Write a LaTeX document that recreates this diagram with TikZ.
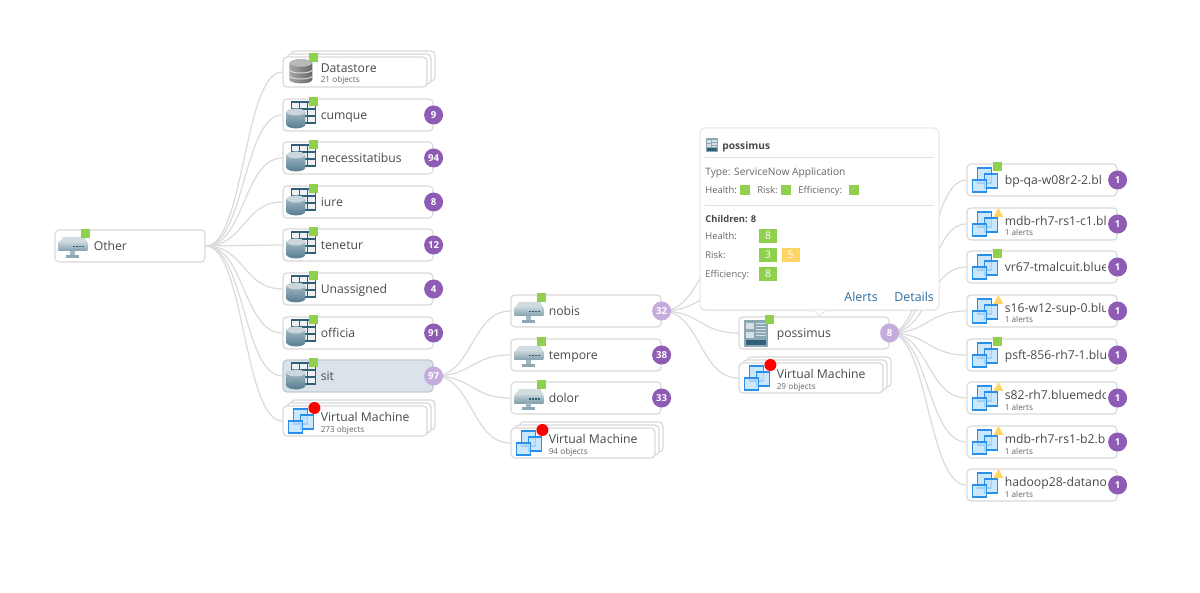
\documentclass[tikz,border=0pt]{standalone}
\usepackage{fontspec}
\setmainfont{Open Sans}
\usetikzlibrary{shadows}
\pgfdeclarelayer{background}
\pgfsetlayers{background,main}
\definecolor{boxline}{HTML}{D9D9D9}
\definecolor{edgeline}{HTML}{DADADA}
\definecolor{maintext}{HTML}{4A4A4A}
\definecolor{subtext}{HTML}{666666}
\definecolor{okgreen}{HTML}{8FD14F}
\definecolor{warnyellow}{HTML}{FFD666}
\definecolor{darkpurple}{HTML}{8E5BB5}
\definecolor{lightpurple}{HTML}{C6ACDD}
\definecolor{linkblue}{HTML}{2F6C9F}
\definecolor{vmblue}{HTML}{2A8FEA}
\definecolor{vmfill}{HTML}{BFE1FA}
\definecolor{gridblue}{HTML}{2F6078}
\definecolor{selfill}{HTML}{DAE3EA}
\definecolor{selline}{HTML}{BCCAD5}
\tikzstyle{box}=[draw=boxline, fill=white, line width=0.6pt, rounded corners=2pt
,minimum width=75pt
,minimum height=16pt
,inner sep=0pt
]
\tikzstyle{stack box} = [box, minimum width=72pt, minimum height=15pt]
\tikzstyle{selected box} = [box, draw=selline, fill=selfill]
\tikzstyle{name text} = [anchor=west, inner sep=0pt, text=maintext, text height=5.7pt, text depth=1.5pt, font=\fontsize{6.1}{8}\selectfont]
\tikzstyle{sub text} = [anchor=west, inner sep=0pt, text=subtext, text height=4pt, text depth=1pt, font=\fontsize{4.1}{5}\selectfont]
\tikzstyle{pop text} = [anchor=west, inner sep=0pt, text=subtext, text height=4.6pt, text depth=1.2pt, font=\fontsize{4.7}{6}\selectfont]
\tikzstyle{pop bold} = [pop text, text=maintext, font=\fontsize{4.7}{6}\selectfont\bfseries]
\tikzstyle{pop link} = [anchor=west, inner sep=0pt, text=linkblue, font=\fontsize{6.2}{7}\selectfont]
\tikzstyle{count badge} = [circle, fill=darkpurple, text=white, minimum size=9.5pt, inner sep=0pt, font=\fontsize{4.8}{6}\selectfont\bfseries]
\tikzstyle{open badge} = [count badge, fill=lightpurple]
\tikzstyle{ok square} = [fill=okgreen, minimum size=4.5pt, inner sep=0pt]
\tikzstyle{red dot} = [circle, fill=red, minimum size=6pt, inner sep=0pt]
\tikzstyle{warn mark} = [fill=warnyellow]
\tikzstyle{small square} = [fill=okgreen, minimum size=5pt, inner sep=0pt]
\tikzstyle{value box} = [fill=okgreen, text=white, minimum width=9pt, minimum height=7pt, inner sep=0pt, font=\fontsize{5.2}{6}\selectfont]
\tikzstyle{edge} = [draw=edgeline, line width=0.6pt]
\tikzstyle{rule} = [draw=black!12, line width=0.5pt]
\tikzset{
  vmicon/.pic={
    \foreach \a/\b/\c/\d in {11/-12/14/15, 18/-6/13/14, 6/0/14/12}
      \draw[draw=vmblue, fill=vmfill, fill opacity=0.8, line width=0.8pt] (\a,\b) rectangle ++(\c,\d);
  },
  gridicon/.pic={
    \draw[draw=gridblue, fill=gridblue!8, line width=0.8pt] (9,-13) rectangle (33,8);
    \foreach \a in {17,25} \draw[draw=gridblue, line width=0.8pt] (\a,-13) -- (\a,8);
    \foreach \b in {-6,1} \draw[draw=gridblue, line width=0.8pt] (9,\b) -- (33,\b);
    \shade[top color=gridblue!35, bottom color=gridblue!85] (4,-3) -- (4,10) .. controls (6,14.5) and (21,14.5) .. (23,10) -- (23,-3) .. controls (21,-7.5) and (6,-7.5) .. cycle;
    \fill[gridblue!25] (4,-3) .. controls (6,-7.5) and (21,-7.5) .. (23,-3) .. controls (21,1.5) and (6,1.5) .. cycle;
  },
  switchicon/.pic={
    \fill[gridblue!22] (4,-3) -- (9,-9) -- (30,-9) -- (33,-3) -- cycle;
    \shade[top color=gridblue!30, bottom color=gridblue!60] (4,-3) rectangle (33,5);
    \foreach \a in {19,22,25,28} \fill[gridblue] (\a,0) rectangle ++(1.5,1.5);
    \fill[gridblue!45] (16,5) rectangle (21,9);
    \fill[gridblue!55] (12,9) rectangle (25,12);
  },
  storeicon/.pic={
    \shade[left color=black!35, right color=black!60] (7,-9) -- (7,8) .. controls (9,12.5) and (28,12.5) .. (30,8) -- (30,-9) .. controls (28,-14) and (9,-14) .. cycle;
    \fill[black!28] (7,-9) .. controls (9,-14) and (28,-14) .. (30,-9) .. controls (28,-4) and (9,-4) .. cycle;
    \foreach \b in {-2,4} \draw[draw=black!15, line width=0.5pt] (7,\b) .. controls (9,\b+4) and (28,\b+4) .. (30,\b);
  },
  buildingicon/.pic={
    \fill[gridblue!55] (6,-13) rectangle (30,14);
    \foreach \b in {-10,-1} \fill[white!80!gridblue] (8,\b) rectangle ++(8,6);
    \foreach \b in {-10,-7,-4,-1,2} \fill[white!80!gridblue] (18,\b) rectangle ++(10,1.5);
    \fill[gridblue] (8,7) rectangle (28,12);
  }
}

\begin{document}
\begin{tikzpicture}[x=0.5pt, y=-0.5pt]
    \useasboundingbox (0,0) rectangle (1200,593);
    % First we draw the root
    \node[box] (Other) at (130,246) {};
    \pic at (Other.west) {switchicon};
    \node[name text] (Other-txt) at ([xshift=19.5pt]Other.west) {Other};
    \node[ok square] (Other-st) at ([shift={(31.5,-12)}]Other.west) {};

    % Then the plain nodes with a count
    \foreach \pos/\name/\cnt/\icon in {{(358,115)/cumque/9/gridicon}, {(358,158)/necessitatibus/94/gridicon}, {(358,202)/iure/8/gridicon}, {(358,245)/tenetur/12/gridicon}, {(358,289)/Unassigned/4/gridicon}, {(358,333)/officia/91/gridicon}, {(586,355)/tempore/38/switchicon}, {(586,398)/dolor/33/switchicon}}
    {
        \node[box] (\name) at \pos {};
        \pic at (\name.west) {\icon};
        \node[name text] (\name-txt) at ([xshift=19pt]\name.west) {\name};
        \node[ok square] (\name-st) at ([shift={(31.5,-13)}]\name.west) {};
        \node[count badge] (\name-cnt) at (\name.east) {\cnt};
    }

    % The open nodes
    \foreach \pos/\name/\cnt/\icon/\sty in {{(358,376)/sit/97/gridicon/selected box}, {(586,311)/nobis/32/switchicon/box}, {(814,333)/possimus/8/buildingicon/box}}
    {
        \node[\sty] (\name) at \pos {};
        \pic at (\name.west) {\icon};
        \node[name text] (\name-txt) at ([xshift=19pt]\name.west) {\name};
        \node[ok square] (\name-st) at ([shift={(31.5,-13)}]\name.west) {};
        \node[open badge] (\name-cnt) at (\name.east) {\cnt};
    }

    % Stacked groups
    \foreach \x/\y/\name/\main/\sub/\icon in {355/72/store/Datastore/21 objects/storeicon, 355/421/vmone/Virtual Machine/273 objects/vmicon, 583/443/vmtwo/Virtual Machine/94 objects/vmicon, 811/378/vmthree/Virtual Machine/29 objects/vmicon}
    {
        \node[stack box] (\name-back) at (\x+8,\y-6) {};
        \node[stack box] (\name-mid) at (\x+4,\y-3) {};
        \node[stack box] (\name) at (\x,\y) {};
        \pic at (\name.west) {\icon};
        \node[name text] (\name-txt) at ([shift={(38,-4)}]\name.west) {\main};
        \node[sub text] (\name-sub) at ([shift={(38,8)}]\name.west) {\sub};
    }
    \node[ok square] (store-st) at ([shift={(31.5,-14)}]store.west) {};
    \foreach \name in {vmone, vmtwo, vmthree}
        \node[red dot] (\name-st) at ([shift={(32,-13)}]\name.west) {};

    % The right column, names are cut at the badge
    \foreach \pos/\name/\main/\dy in {{(1042,180)/vma/bp-qa-w08r2-2.bl/0}, {(1042,224)/vmb/mdb-rh7-rs1-c1.blu/-3}, {(1042,267)/vmc/vr67-tmalcuit.blue/0}, {(1042,311)/vmd/s16-w12-sup-0.blu/-3}, {(1042,355)/vme/psft-856-rh7-1.blu/0}, {(1042,398)/vmf/s82-rh7.bluemedo/-3}, {(1042,442)/vmg/mdb-rh7-rs1-b2.bl/-3}, {(1042,485)/vmh/hadoop28-datano/-3}}
    {
        \node[box] (\name) at \pos {};
        \pic at (\name.west) {vmicon};
        \begin{scope}
            \clip (\name.south west) rectangle ([xshift=-6pt]\name.north east);
            \node[name text] (\name-txt) at ([shift={(38,\dy)}]\name.west) {\main};
        \end{scope}
        \node[count badge] (\name-cnt) at (\name.east) {1};
    }
    \foreach \name in {vma, vmc, vme}
        \node[ok square] (\name-st) at ([shift={(31.5,-13)}]\name.west) {};
    \foreach \name in {vmb, vmd, vmf, vmg, vmh}
    {
        \fill[warn mark] ([shift={(32,-16)}]\name.west) -- ([shift={(37,-7)}]\name.west) -- ([shift={(27,-7)}]\name.west) -- cycle;
        \node[sub text] (\name-sub) at ([shift={(38,9)}]\name.west) {1 alerts};
    }

    % Two more children hidden under the popup
    \coordinate (hidden-a) at (739,245);
    \coordinate (hidden-b) at (739,289);

    % Connect nodes with edges
    \begin{pgfonlayer}{background}
    \foreach \source/\dest in {Other.east/store.west, Other.east/cumque.west, Other.east/necessitatibus.west, Other.east/iure.west, Other.east/tenetur.west, Other.east/Unassigned.west, Other.east/officia.west, Other.east/sit.west, Other.east/vmone.west, sit-cnt.center/nobis.west, sit-cnt.center/tempore.west, sit-cnt.center/dolor.west, sit-cnt.center/vmtwo.west, nobis-cnt.center/hidden-a, nobis-cnt.center/hidden-b, nobis-cnt.center/possimus.west, nobis-cnt.center/vmthree.west, possimus-cnt.center/vma.west, possimus-cnt.center/vmb.west, possimus-cnt.center/vmc.west, possimus-cnt.center/vmd.west, possimus-cnt.center/vme.west, possimus-cnt.center/vmf.west, possimus-cnt.center/vmg.west, possimus-cnt.center/vmh.west}
        \path[edge] (\source) .. controls +(39,0) and +(-39,0) .. (\dest);
    \end{pgfonlayer}

    % The popup goes over all of it
    \node[draw=black!10, fill=white, rounded corners=2.5pt, line width=0.5pt, minimum width=119.5pt, minimum height=91pt, inner sep=0pt, drop shadow={shadow xshift=0pt, shadow yshift=-0.7pt, opacity=0.12}] (popup) at (819.5,219) {};
    \path[draw=black!10, fill=white, line width=0.5pt] ([xshift=-3pt]popup.south) -- ([yshift=-2.5pt]popup.south) -- ([xshift=3pt]popup.south);
    \pic[scale=0.5] at (703,145) {buildingicon};
    \node[pop bold, font=\fontsize{5.1}{6}\selectfont\bfseries] (pop-title) at (722,146) {possimus};
    \path[rule] (705,158) -- (934,158);
    \node[pop text, font=\fontsize{5.1}{6}\selectfont] (pop-type) at (705,172.5) {Type: ServiceNow Application};
    \node[pop text] (pop-health) at (705,190) {Health:};
    \node[small square] (pop-hs) at (745,190) {};
    \node[pop text] (pop-risk) at (757,190) {Risk:};
    \node[small square] (pop-rs) at (786,190) {};
    \node[pop text] (pop-eff) at (798,190) {Efficiency:};
    \node[small square] (pop-es) at (853.5,190) {};
    \path[rule] (705,206) -- (934,206);
    \node[pop bold] (pop-child) at (705,219.5) {Children: 8};
    \foreach \y/\name/\lab/\cnt in {236/ch/Health:/8, 255/cr/Risk:/3, 274/ce/Efficiency:/8}
    {
        \node[pop text] (\name-txt) at (705,\y) {\lab};
        \node[value box] (\name-val) at (768,\y) {\cnt};
    }
    \node[value box, fill=warnyellow] (cr-val2) at (790.5,255) {5};
    \node[pop link] (pop-alerts) at (844,297) {Alerts};
    \node[pop link] (pop-details) at (894,297) {Details};
\end{tikzpicture}
\end{document}
